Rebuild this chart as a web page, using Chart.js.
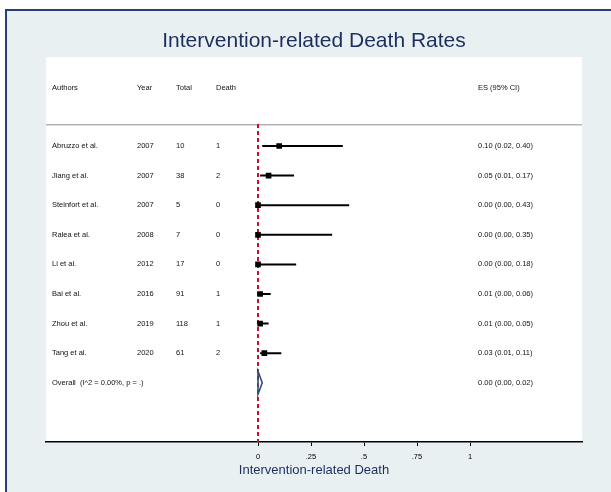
<!DOCTYPE html>
<html><head><meta charset="utf-8">
<script src="https://cdn.jsdelivr.net/npm/chart.js@4"></script>
<style>
html,body{margin:0;padding:0;background:#fff;width:611px;height:492px;overflow:hidden}
#frame{position:absolute;left:5px;top:9px;width:700px;height:600px;background:#e8f0f2;border-left:2px solid #2b3e74;border-top:2px solid #2b3e74}
#wrap{position:absolute;left:0;top:0;width:611px;height:492px}
</style></head><body>
<div id="frame"></div>
<div id="wrap"><canvas id="c" width="611" height="492"></canvas></div>
<script>
// ---- data ----
const authors = ['Abruzzo et al.','Jiang et al.','Steinfort et al.','Ralea et al.','Li et al.','Bai et al.','Zhou et al.','Tang et al.'];
const years   = ['2007','2007','2007','2008','2012','2016','2019','2020'];
const totals  = ['10','38','5','7','17','91','118','61'];
const deaths  = ['1','2','0','0','0','1','1','2'];
const es      = [0.10, 0.05, 0.00, 0.00, 0.00, 0.01, 0.01, 0.03];
const lo      = [0.02, 0.01, 0.00, 0.00, 0.00, 0.00, 0.00, 0.01];
const hi      = [0.40, 0.17, 0.43, 0.35, 0.18, 0.06, 0.05, 0.11];
const overallLabel = 'Overall  (I^2 = 0.00%, p = .)';
const overallES = [0.00, 0.00, 0.02]; // es, lo, hi
const headers = ['Authors','Year','Total','Death','ES (95% CI)'];
const xTicks = [0, 0.25, 0.5, 0.75, 1];
const xTickLabels = ['0', '.25', '.5', '.75', '1'];
const xTitle = 'Intervention-related Death';
const chartTitle = 'Intervention-related Death Rates';

const FONT = "'Liberation Sans', Arial, Helvetica, sans-serif";
const fmt = v => v.toFixed(2);
const esLabels = es.map((v,i)=> `${fmt(v)} (${fmt(lo[i])}, ${fmt(hi[i])})`);
const overallRow = es.length;

// datasets built from arrays
const ciData = [];
es.forEach((v,i)=>{ ciData.push({x:lo[i],y:i},{x:hi[i],y:i},{x:hi[i],y:null}); });
const boxData = es.map((v,i)=>({x:v,y:i}));
const dh = 0.39;
const diamond = [
  {x:overallES[1],y:overallRow},{x:overallES[0],y:overallRow-dh},
  {x:overallES[2],y:overallRow},{x:overallES[0],y:overallRow+dh},
  {x:overallES[1],y:overallRow}
];
const refLine = [{x:overallES[0],y:-0.74},{x:overallES[0],y:10}];

const tablePlugin = {
  id:'table',
  beforeDraw(chart){
    const {ctx, chartArea:a} = chart;
    ctx.save();
    ctx.fillStyle = '#fff';
    ctx.fillRect(a.left, a.top, a.right-a.left, a.bottom-a.top);
    const y = chart.scales.y.getPixelForValue(-0.72);
    ctx.strokeStyle = '#b4b4b4'; ctx.lineWidth = 1.5;
    ctx.beginPath(); ctx.moveTo(a.left, y); ctx.lineTo(a.right, y); ctx.stroke();
    ctx.restore();
  },
  afterDraw(chart){
    const {ctx} = chart; const ys = chart.scales.y;
    const cols = [52, 137, 176, 216, 478];
    ctx.save();
    ctx.fillStyle = '#111';
    ctx.font = `7.5px ${FONT}`;
    ctx.textBaseline = 'middle'; ctx.textAlign = 'left';
    const hy = ys.getPixelForValue(-1.95);
    headers.forEach((h,k)=> ctx.fillText(h, cols[k], hy));
    authors.forEach((a,i)=>{
      const y = ys.getPixelForValue(i);
      [a, years[i], totals[i], deaths[i], esLabels[i]].forEach((t,k)=> ctx.fillText(t, cols[k], y));
    });
    const oy = ys.getPixelForValue(overallRow);
    ctx.fillText(overallLabel, cols[0], oy);
    ctx.fillText(`${fmt(overallES[0])} (${fmt(overallES[1])}, ${fmt(overallES[2])})`, cols[4], oy);
    ctx.restore();
  }
};

new Chart(document.getElementById('c'), {
  type:'line',
  data:{ datasets:[
    {label:'box', data:boxData, showLine:false, pointStyle:'rect', pointRadius:4, pointBackgroundColor:'#000', pointBorderColor:'#000', pointBorderWidth:0},
    {label:'ci', data:ciData, borderColor:'#000', borderWidth:2, pointRadius:0, spanGaps:false},
    {label:'diamond', data:diamond, borderColor:'#2f5080', borderWidth:1.6, pointRadius:0, fill:false},
    {label:'ref', data:refLine, borderColor:'#c8102e', borderWidth:2, borderDash:[4,3], pointRadius:0}
  ]},
  options:{
    responsive:false, animation:false,
    layout:{padding:{left:46, right:29, top:0, bottom:0}},
    plugins:{
      legend:{display:false}, tooltip:{enabled:false},
      title:{display:true, text:chartTitle, color:'#1c2d5e', font:{family:FONT, size:21, weight:'normal'}, padding:{top:29, bottom:3}}
    },
    scales:{
      x:{type:'linear', min:-1.0, max:1.5283, position:'bottom',
        afterBuildTicks: s => { s.ticks = xTicks.map(v=>({value:v})); },
        afterFit: s => { s.height = 50; },
        ticks:{autoSkip:false, maxRotation:0, padding:6, color:'#000', font:{family:FONT, size:7.5},
          callback:(v,i)=> xTickLabels[i]},
        grid:{drawOnChartArea:false, drawTicks:true, tickLength:4, color:'#000', lineWidth:1},
        border:{display:true, color:'#000', width:1.5},
        title:{display:true, text:xTitle, color:'#1c2d5e', font:{family:FONT, size:13}, padding:{top:0, bottom:14}}
      },
      y:{type:'linear', min:-3, max:10, reverse:true, display:false}
    }
  },
  plugins:[tablePlugin]
});
</script>
</body></html>
